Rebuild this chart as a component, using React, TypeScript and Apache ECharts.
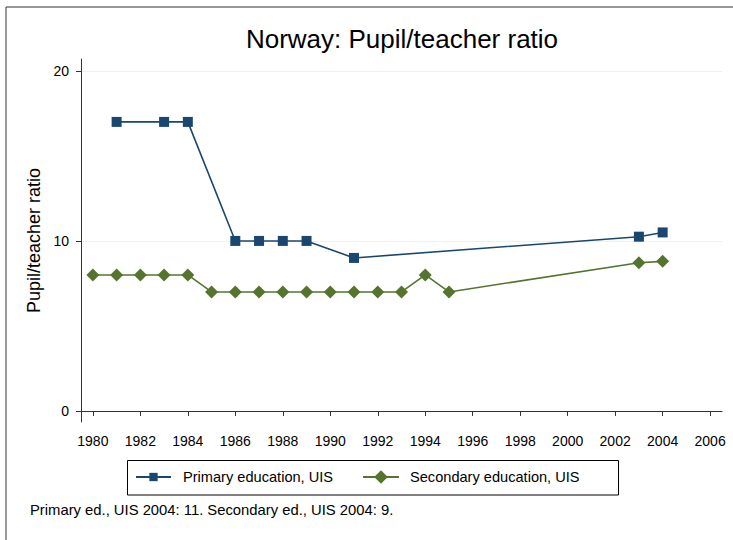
import React, { useEffect, useRef } from "react";
import * as echarts from "echarts";

const primaryYears = [1981, 1983, 1984, 1986, 1987, 1988, 1989, 1991, 2003, 2004];
const primaryValues = [17, 17, 17, 10, 10, 10, 10, 9, 10.25, 10.5];
const secondaryYears = [1980, 1981, 1982, 1983, 1984, 1985, 1986, 1987, 1988, 1989, 1990, 1991, 1992, 1993, 1994, 1995, 2003, 2004];
const secondaryValues = [8, 8, 8, 8, 8, 7, 7, 7, 7, 7, 7, 7, 7, 7, 8, 7, 8.72, 8.8];
const xTicks = [1980, 1982, 1984, 1986, 1988, 1990, 1992, 1994, 1996, 1998, 2000, 2002, 2004, 2006];
const yTicks = [0, 10, 20];
const seriesNames = ["Primary education, UIS", "Secondary education, UIS"];
const noteText = "Primary ed., UIS 2004: 11. Secondary ed., UIS 2004: 9.";
const titleText = "Norway: Pupil/teacher ratio";
const yTitle = "Pupil/teacher ratio";

const FONT = "Liberation Sans, Arial, sans-serif";
const NAVY = "#1a476f";
const GREEN = "#55752f";

export default function App() {
  const ref = useRef<HTMLDivElement>(null);
  useEffect(() => {
    if (!ref.current) return;
    const chart = echarts.init(ref.current, null, { renderer: "svg" });
    chart.setOption({
      animation: false,
      backgroundColor: "#ffffff",
      textStyle: { fontFamily: FONT },
      title: {
        text: titleText,
        left: 402,
        textAlign: "center",
        top: 26,
        padding: 0,
        textStyle: { fontFamily: FONT, fontSize: 26, fontWeight: "normal", color: "#000" },
      },
      grid: { left: 81, right: 11, top: 59, bottom: 118, containLabel: false },
      xAxis: {
        type: "value",
        min: 1979.5,
        max: 2006.5,
        axisLine: { show: true, lineStyle: { color: "#333", width: 1 } },
        axisTick: { show: true, length: 5, lineStyle: { color: "#333" }, customValues: xTicks },
        axisLabel: {
          customValues: xTicks,
          formatter: (v: number) => String(Math.round(v)),
          color: "#000",
          fontSize: 14,
          fontFamily: FONT,
          margin: 12,
        },
        splitLine: { show: false },
      },
      yAxis: {
        type: "value",
        min: -0.65,
        max: 20.7,
        name: yTitle,
        nameLocation: "middle",
        nameRotate: 90,
        nameGap: 30,
        nameTextStyle: { fontFamily: FONT, fontSize: 18, color: "#000" },
        axisLine: { show: true, lineStyle: { color: "#333", width: 1 } },
        axisTick: { show: true, length: 5, lineStyle: { color: "#333" }, customValues: yTicks },
        axisLabel: {
          customValues: yTicks,
          formatter: (v: number) => String(Math.round(v)),
          color: "#000",
          fontSize: 14,
          fontFamily: FONT,
          margin: 12,
        },
        splitLine: { show: true, lineStyle: { color: "#eaf2f3", width: 1 } },
      },
      legend: [
        {
          left: 135,
          top: 469.5,
          padding: 0,
          itemWidth: 35,
          itemHeight: 10.4,
          textStyle: { fontFamily: FONT, fontSize: 14.6, color: "#000", padding: [0, 0, 0, 7] },
          data: [seriesNames[0]],
        },
        {
          left: 362,
          top: 469.5,
          padding: 0,
          itemWidth: 36,
          itemHeight: 17,
          textStyle: { fontFamily: FONT, fontSize: 14.6, color: "#000", padding: [0, 0, 0, 6] },
          data: [seriesNames[1]],
        },
      ],
      graphic: [
        { type: "line", shape: { x1: 6, y1: 7, x2: 733, y2: 7 }, style: { stroke: "#333", lineWidth: 1 } },
        { type: "line", shape: { x1: 6, y1: 7, x2: 6, y2: 540 }, style: { stroke: "#333", lineWidth: 1 } },
        { type: "rect", shape: { x: 127.5, y: 460.5, width: 491, height: 34.5 }, style: { fill: "none", stroke: "#000", lineWidth: 1 } },
        {
          type: "text",
          x: 30,
          y: 510,
          style: { text: noteText, fontFamily: FONT, fontSize: 14.8, fill: "#000", verticalAlign: "middle" },
        },
      ],
      series: [
        {
          name: seriesNames[0],
          type: "line",
          data: primaryYears.map((y, i) => [y, primaryValues[i]]),
          symbol: "rect",
          symbolSize: 10,
          itemStyle: { color: NAVY },
          lineStyle: { color: NAVY, width: 1.6 },
          z: 3,
        },
        {
          name: seriesNames[1],
          type: "line",
          data: secondaryYears.map((y, i) => [y, secondaryValues[i]]),
          symbol: "diamond",
          symbolSize: 13,
          itemStyle: { color: GREEN },
          lineStyle: { color: GREEN, width: 1.6 },
          z: 2,
        },
      ],
    });
    return () => chart.dispose();
  }, []);
  return <div ref={ref} style={{ position: "fixed", left: 0, top: 0, width: 733, height: 540 }} />;
}
